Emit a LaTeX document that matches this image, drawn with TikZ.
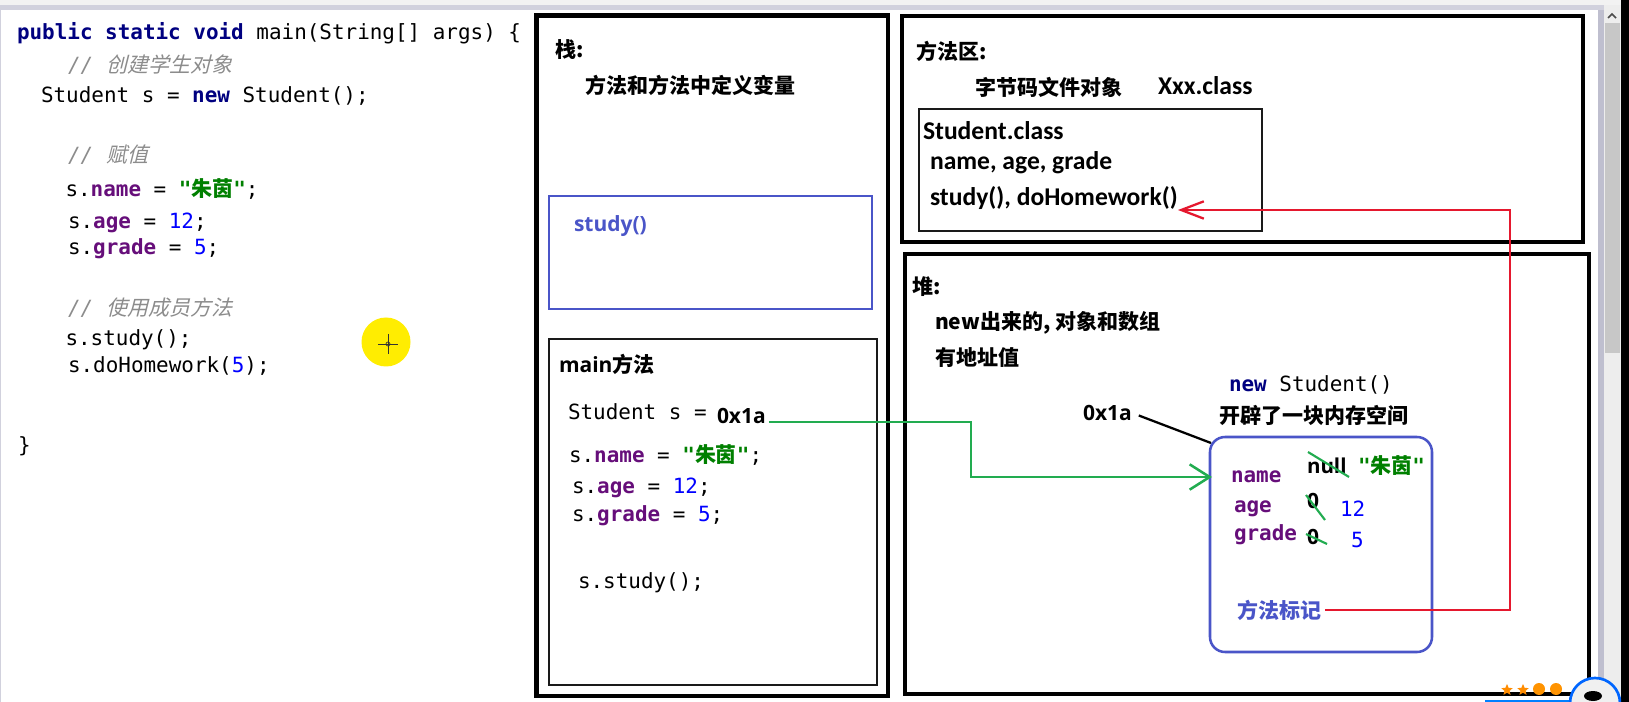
\documentclass[tikz,border=0pt]{standalone}
\usepackage{fontspec}
\usetikzlibrary{arrows.meta,shapes.geometric}
\setmainfont{Open Sans}
\newfontfamily\monof{DejaVu Sans Mono}
\newfontfamily\cjkf{Noto Sans CJK SC}
\newfontfamily\cjkslant{Noto Sans CJK SC}[FakeSlant=0.25]
\newfontfamily\nsf{Open Sans}
\newfontfamily\calf{Carlito}
\definecolor{kw}{HTML}{000080}
\definecolor{fld}{HTML}{660E7A}
\definecolor{strg}{HTML}{008000}
\definecolor{numc}{HTML}{0000FF}
\definecolor{cmt}{HTML}{8C8C8C}
\definecolor{bluebox}{HTML}{4A55C8}
\definecolor{greenl}{HTML}{22AC50}
\definecolor{redl}{HTML}{E5182E}
\definecolor{darkb}{HTML}{1A1A1A}
\newcommand\kw[1]{{\bfseries\color{kw}#1}}
\newcommand\fl[1]{{\bfseries\color{fld}#1}}
\newcommand\st{{\bfseries\color{strg}"{\cjkf 朱茵}"}}
\newcommand\nm[1]{{\color{numc}#1}}
\newcommand\cm[1]{{\itshape\color{cmt}//\hspace{0.65em}{\cjkslant #1}}}
\tikzset{
  x=0.75pt,y=-0.75pt,
  every node/.style={inner sep=0pt,outer sep=0pt},
  code/.style={anchor=base west,font=\monof\fontsize{15.7}{18}\selectfont},
  hzb/.style={anchor=base west,font=\cjkf\bfseries\fontsize{15.75}{18}\selectfont},
  latb/.style={anchor=base west,font=\nsf\bfseries\fontsize{15.75}{18}\selectfont},
  calb/.style={anchor=base west,font=\calf\bfseries\fontsize{19.2}{22}\selectfont},
  outerbox/.style={draw=black,line width=3.7pt},
  innerbox/.style={draw=darkb,line width=1.9pt},
  bluerect/.style={draw=bluebox,line width=1.9pt},
  strike/.style={draw=greenl,line width=1.6pt},
  greenarrow/.style={draw=greenl,line width=1.9pt,-{Straight Barb[length=15pt,width=19pt,line width=1.9pt]}},
  redarrow/.style={draw=redl,line width=1.8pt,-{Straight Barb[length=17pt,width=13pt,line width=1.7pt]}},
  staricon/.style={star,star points=5,star point ratio=2.2,minimum size=9pt,fill=orange!90!yellow},
  sunicon/.style={circle,minimum size=9pt,fill=orange!85!yellow}
}
\begin{document}
\begin{tikzpicture}
\useasboundingbox (0,0) rectangle (1629,702);
% window chrome
\fill[white] (0,0) rectangle (1629,702);
\fill[black!5] (0,0) rectangle (1629,5);
\fill[blue!25!black!18] (0,5) rectangle (1629,10);
\fill[blue!25!black!18] (0,10) rectangle (1,702);
\fill[blue!25!black!25] (1598,10) rectangle (1604,702);
\fill[black!7] (1604,5) rectangle (1621,702);
\fill[black!22] (1605,23) rectangle (1620,353);
\fill[black] (1621,0) rectangle (1629,702);
\draw[black!70,line width=1.2pt] (1608,18) -- (1612,14) -- (1616,18);
% large boxes
\draw[outerbox] (536.5,15.5) rectangle (888,696);
\draw[outerbox] (902,16) rectangle (1583,242);
\draw[outerbox] (905,254) rectangle (1589,694);
% stack
\node[hzb] (stacktitle) at (555,58) {栈:};
\node[hzb] (stackdesc) at (585,94) {方法和方法中定义变量};
\draw[bluerect] (549,196) rectangle (872,309);
\node[latb,text=bluebox] (studyf) at (574,232) {study()};
\draw[innerbox] (549,339) rectangle (877,685);
\node[latb] (maintitle) at (559,373) {main{\cjkf 方法}};
\node[code] (c1) at (568,420) {Student s =};
\node[latb] (addr) at (717,423) {0x1a};
\node[code] (c2) at (569,462) {s.\fl{name} = \st;};
\node[code] (c3) at (572,493) {s.\fl{age} = \nm{12};};
\node[code] (c4) at (572,521) {s.\fl{grade} = \nm{5};};
\node[code] (c5) at (578,588) {s.study();};
% method area
\node[hzb] (mtitle) at (916,60) {方法区:};
\node[hzb] (mdesc) at (975,96) {字节码文件对象};
\node[calb] (xclass) at (1158,95) {Xxx.class};
\draw[innerbox] (919,109) rectangle (1262,231);
\node[calb] (sclass) at (923,140) {Student.class};
\node[calb] (sfields) at (930,170) {name, age, grade};
\node[calb] (smeth) at (930,206) {study(), doHomework()};
% heap
\node[hzb] (htitle) at (912,295) {堆:};
\node[hzb] (hd1) at (935,330) {new{\kern 0pt}出来的, 对象和数组};
\node[hzb] (hd2) at (935,366) {有地址值};
\node[code] (newst) at (1229,392) {\kw{new} Student()};
\node[hzb] (alloc) at (1219,423) {开辟了一块内存空间};
\node[latb] (haddr) at (1083,421) {0x1a};
\draw[bluerect,rounded corners=15pt*0.75] (1210,437) rectangle (1432,652);
\coordinate (objcorner) at (1211,443);
\draw[black,line width=1.7pt] ([shift={(7,2)}]haddr.east) -- (objcorner);
\node[code] (fname) at (1231,482) {\fl{name}};
\node[latb,font=\nsf\bfseries\fontsize{15.4}{18}\selectfont] (fnull) at (1307,473) {null};
\node[code] (fstr) at (1358,473) {\st};
\node[code] (fage) at (1234,512) {\fl{age}};
\node[latb] (zero1) at (1307,508) {0};
\node[code] (v12) at (1340,516) {\nm{12}};
\node[code] (fgrade) at (1234,540) {\fl{grade}};
\node[latb] (zero2) at (1307,544) {0};
\node[code] (v5) at (1351,547) {\nm{5}};
\draw[strike] (1308,452) -- (1349,477);
\draw[strike] (1306,495) -- (1325,520);
\draw[strike] (1306,534) -- (1327,544);
\node[hzb,text=bluebox,anchor=west] (mark) at (1237,610) {方法标记};
% code panel
\node[code] (l1) at (17,40) {\kw{public} \kw{static} \kw{void} main(String[] args) \{};
\node[code] (l2) at (68,73) {\cm{创建学生对象}};
\node[code] (l3) at (41,103) {Student s = \kw{new} Student();};
\node[code] (l4) at (68,163) {\cm{赋值}};
\node[code] (l5) at (65.5,197) {s.\fl{name} = \st;};
\node[code] (l6) at (68,229) {s.\fl{age} = \nm{12};};
\node[code] (l7) at (68,255) {s.\fl{grade} = \nm{5};};
\node[code] (l8) at (68,316) {\cm{使用成员方法}};
\node[code] (l9) at (65.5,346) {s.study();};
\node[code] (l10) at (68,373) {s.doHomework(\nm{5});};
\node[code] (l11) at (18,452) {\}};
% cursor
\fill[yellow!95!orange] (386,342) circle (24.5);
\draw[black!80,line width=0.7pt] (378,344) -- (398,344) (388,334) -- (388,354);
\draw[black!80,line width=0.5pt] (388,344) circle (2);
% connectors
\coordinate (gmid) at (971,450);
\coordinate (gend) at (1212,477);
\draw[greenarrow] ([shift={(3,6.5)}]addr.east) -| (gmid) |- (gend);
\coordinate (rmid) at (1510,400);
\coordinate (rend) at (1178,210);
\draw[redarrow] ([xshift=3pt]mark.east) -| (rmid) |- (rend);
% corner decoration
\node[staricon] (s1) at (1507,690) {};
\node[staricon] (s2) at (1523,690) {};
\node[sunicon] (s3) at (1539,689) {};
\node[sunicon] (s4) at (1556,689) {};
\draw[blue!50!cyan,line width=1.2pt] (1485,701) -- (1570,701);
\begin{scope}
\clip (1560,670) rectangle (1621,702);
\draw[blue!60!cyan,line width=2pt,fill=black!6] (1595,703) circle (25);
\fill[black] (1593,696) ellipse (9 and 5);
\end{scope}
\end{tikzpicture}
\end{document}
